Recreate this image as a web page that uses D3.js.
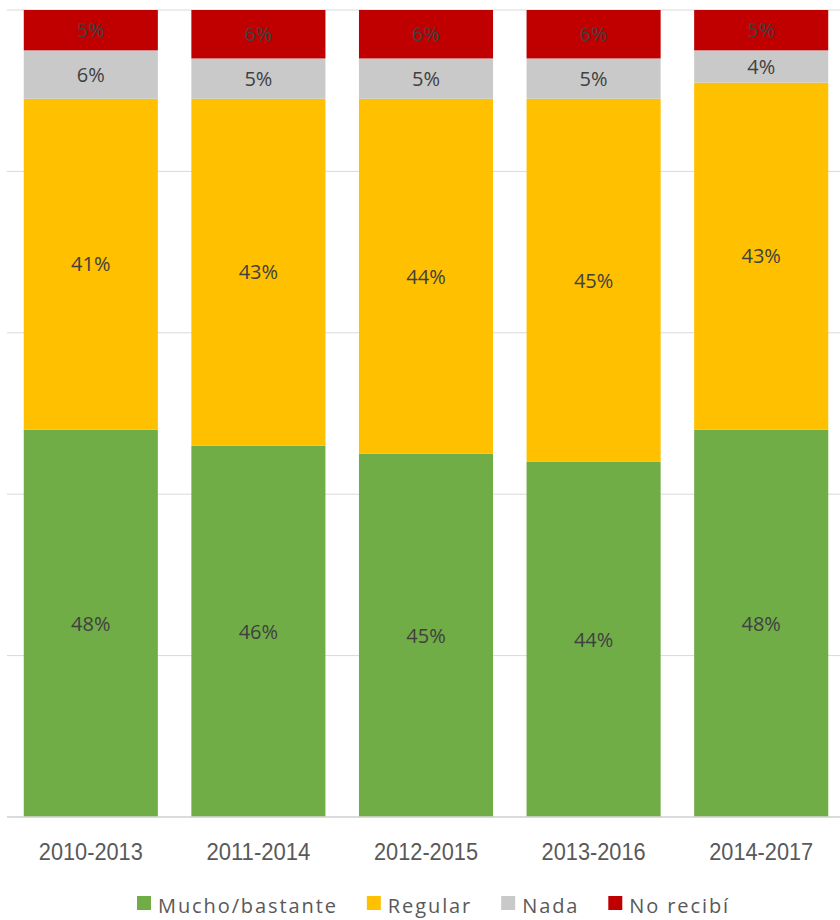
<!DOCTYPE html>
<head>
    <script src="https://d3js.org/d3.v7.min.js"></script>
    <style>
body { margin: 0; background: #fff; }
</style>
</head>
<body>
    <svg></svg>
</body>

<script>
    var periods = ["2010-2013", "2011-2014", "2012-2015", "2013-2016", "2014-2017"];
    var mucho   = [48, 46, 45, 44, 48];
    var regular = [41, 43, 44, 45, 43];
    var nada    = [6, 5, 5, 5, 4];
    var noRecibi = [5, 6, 6, 6, 5];
    var seriesNames = ["Mucho/bastante", "Regular", "Nada", "No recibí"];
    var seriesColors = ["#70ad47", "#ffc000", "#c9c9c9", "#c00000"];
    var yTicks = [0, 20, 40, 60, 80, 100];

    var width = 840, height = 920;
    var svg = d3.select('svg').attr('width', width).attr('height', height);

    // rows for d3.stack
    var rows = periods.map(function (p, i) {
        return { period: p, "Mucho/bastante": mucho[i], "Regular": regular[i], "Nada": nada[i], "No recibí": noRecibi[i] };
    });
    var stacked = d3.stack().keys(seriesNames)(rows);

    var x = d3.scaleBand().domain(periods).range([7, 845]).paddingInner(0.2).paddingOuter(0.1);
    var y = d3.scaleLinear().domain([0, 100]).range([817, 10]);
    var color = d3.scaleOrdinal().domain(seriesNames).range(seriesColors);

    // gridlines
    svg.append('g').selectAll('line')
        .data(yTicks)
        .enter().append('line')
        .attr('x1', 7).attr('x2', 840)
        .attr('y1', function (d) { return y(d); })
        .attr('y2', function (d) { return y(d); })
        .style('stroke', '#d9d9d9')
        .style('stroke-width', function (d) { return d === 0 ? 1.5 : 1; });

    var layers = svg.append('g').selectAll('g')
        .data(stacked)
        .enter().append('g')
        .style('fill', function (d) { return color(d.key); });

    layers.selectAll('rect')
        .data(function (d) { return d; })
        .enter().append('rect')
        .attr('x', function (d) { return x(d.data.period); })
        .attr('width', x.bandwidth())
        .attr('y', function (d) { return y(d[1]); })
        .attr('height', function (d) { return y(d[0]) - y(d[1]); });

    // redraw baseline over bars
    svg.append('line')
        .attr('x1', 7).attr('x2', 840)
        .attr('y1', y(0)).attr('y2', y(0))
        .style('stroke', '#d9d9d9').style('stroke-width', 1.5);

    // data labels
    layers.selectAll('text')
        .data(function (d) { return d; })
        .enter().append('text')
        .attr('x', function (d) { return x(d.data.period) + x.bandwidth() / 2; })
        .attr('y', function (d) { return (y(d[0]) + y(d[1])) / 2; })
        .attr('dy', '0.36em')
        .attr('text-anchor', 'middle')
        .style('font-family', '"Open Sans", "Noto Sans", sans-serif')
        .style('font-size', '20px')
        .style('fill', '#404040')
        .text(function (d) { return (d[1] - d[0]) + '%'; });

    // category axis
    var xAxis = svg.append('g')
        .attr('transform', 'translate(0,' + y(0) + ')')
        .call(d3.axisBottom(x).tickSize(0).tickPadding(26));
    xAxis.select('.domain').remove();
    xAxis.selectAll('text')
        .attr('textLength', 104)
        .attr('lengthAdjust', 'spacingAndGlyphs')
        .style('font-family', '"Liberation Sans", Arial, sans-serif')
        .style('font-size', '24px')
        .style('fill', '#595959');

    // legend
    var legend = svg.append('g');
    var items = legend.selectAll('g')
        .data(seriesNames)
        .enter().append('g');
    items.append('rect')
        .attr('width', 14).attr('height', 14)
        .attr('y', 896)
        .style('fill', function (d) { return color(d); });
    items.append('text')
        .attr('x', 21).attr('y', 913)
        .style('font-family', '"Open Sans", "Noto Sans", sans-serif')
        .style('font-size', '20px')
        .style('letter-spacing', '1.9px')
        .style('fill', '#595959')
        .text(function (d) { return d; });

    var pos = 137;
    items.each(function () {
        var w = d3.select(this).select('text').node().getComputedTextLength();
        d3.select(this).attr('transform', 'translate(' + pos + ',0)');
        pos += 21 + w + 29;
    });
</script>
